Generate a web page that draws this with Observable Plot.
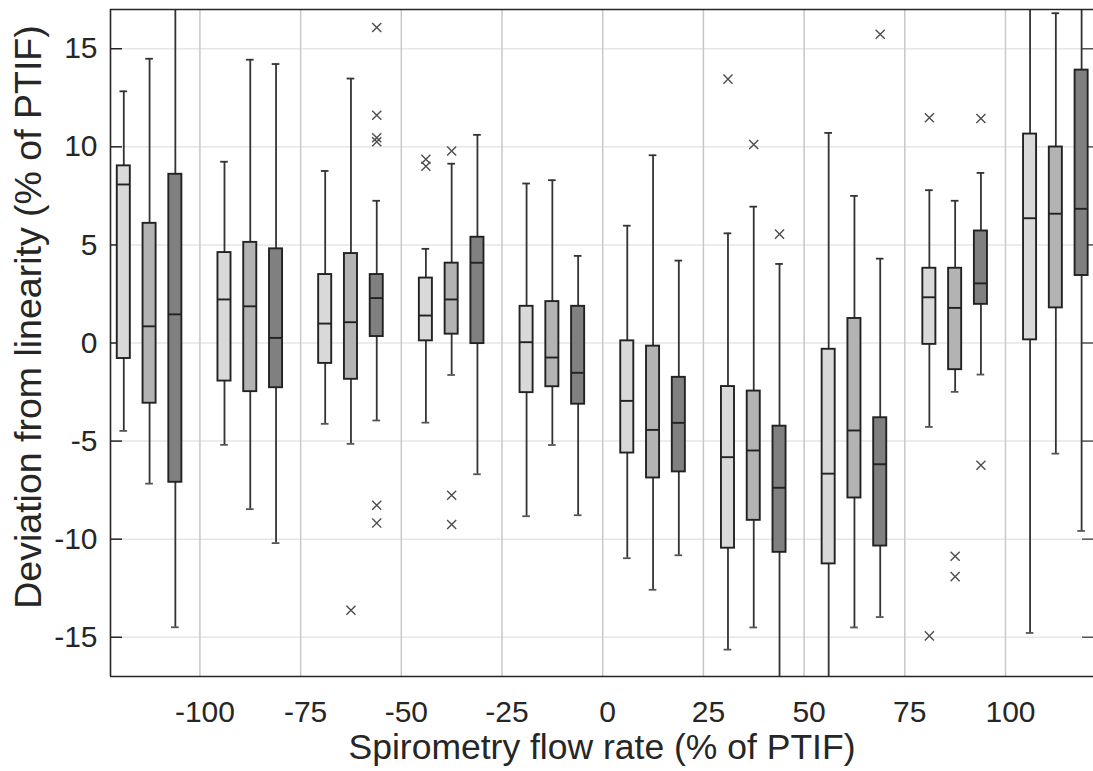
<!DOCTYPE html>
<html>
<head>
<meta charset="utf-8">
<script src="https://cdn.jsdelivr.net/npm/d3@7"></script>
<script src="https://cdn.jsdelivr.net/npm/@observablehq/plot@0.6"></script>
<style>
  html, body { margin: 0; padding: 0; background: #fff; }
  #chart { width: 1093px; height: 771px; }
</style>
</head>
<body>
<div id="chart"></div>
<script>
// Flow-rate bins (centre of each 25 %-wide bin, % of PTIF)
const binCenters = [-112.5, -87.5, -62.5, -37.5, -12.5, 12.5, 37.5, 62.5, 87.5, 112.5];
const seriesNames = ["Series 1", "Series 2", "Series 3"];

// Box statistics per bin: [series1, series2, series3]
const whiskerHigh = [
  [12.83, 14.49, 19.5], [9.24, 14.44, 14.22], [8.77, 13.48, 7.25], [4.80, 9.14, 10.61],
  [8.13, 8.30, 4.44], [5.98, 9.57, 4.20], [5.59, 6.95, 4.03], [10.71, 7.50, 4.30],
  [7.79, 7.25, 8.67], [19.0, 16.81, 19.0]
];
const upperQuartile = [
  [9.03, 6.10, 8.60], [4.61, 5.13, 4.80], [3.49, 4.56, 3.49], [3.31, 4.07, 5.39],
  [1.87, 2.11, 1.87], [0.11, -0.16, -1.75], [-2.22, -2.45, -4.24], [-0.32, 1.25, -3.81],
  [3.81, 3.81, 5.71], [10.65, 9.99, 13.91]
];
const medians = [
  [8.08, 0.85, 1.46], [2.22, 1.87, 0.26], [0.99, 1.06, 2.29], [1.40, 2.22, 4.09],
  [0.04, -0.74, -1.52], [-2.95, -4.43, -4.07], [-5.82, -5.48, -7.38], [-6.66, -4.46, -6.18],
  [2.33, 1.79, 3.04], [6.36, 6.59, 6.84]
];
const lowerQuartile = [
  [-0.79, -3.07, -7.10], [-1.94, -2.48, -2.28], [-1.04, -1.85, 0.33], [0.11, 0.45, -0.03],
  [-2.53, -2.23, -3.12], [-5.61, -6.88, -6.57], [-10.46, -9.04, -10.67], [-11.26, -7.90, -10.35],
  [-0.07, -1.36, 1.97], [0.16, 1.79, 3.44]
];
const whiskerLow = [
  [-4.48, -7.17, -14.49], [-5.19, -8.47, -10.20], [-4.12, -5.14, -3.95], [-4.06, -1.63, -6.69],
  [-8.83, -5.20, -8.78], [-10.97, -12.58, -10.82], [-15.63, -14.50, -18.0], [-19.0, -14.50, -13.97],
  [-4.28, -2.49, -1.61], [-14.78, -5.64, -9.58]
];
// Outliers: bin index, series index, value
const outlierBin    = [2, 2, 2, 2, 2, 2, 2, 3, 3, 3, 3, 3, 6, 6, 6, 7, 8, 8, 8, 8, 8, 8];
const outlierSeries = [2, 2, 2, 2, 2, 2, 1, 0, 0, 1, 1, 1, 0, 1, 2, 2, 0, 0, 1, 1, 2, 2];
const outlierValue  = [16.08, 11.61, 10.46, 10.26, -8.27, -9.18, -13.62, 9.37, 9.01, 9.79, -7.76, -9.25,
                       13.45, 10.12, 5.55, 15.74, 11.48, -14.93, -10.87, -11.91, 11.44, -6.23];

const xTicks = [-100, -75, -50, -25, 0, 25, 50, 75, 100];
const yTicks = [-15, -10, -5, 0, 5, 10, 15];
const fills = ["#d9d9d9", "#b3b3b3", "#808080"];

// ---- build tables ----
const xDomain = [-122.2, 121.85];
const yDomain = [-17, 17];
const seriesOffset = 6.4;   // spacing of the three boxes within a bin (x units)
const boxHalf = 1.62;       // half box width (x units)
const capHalf = 0.95;       // half whisker-cap width (x units)

const boxes = [];
binCenters.forEach((c, i) => {
  seriesNames.forEach((s, j) => {
    boxes.push({
      series: s, j, pos: c + (j - 1) * seriesOffset,
      lo: whiskerLow[i][j], q1: lowerQuartile[i][j], med: medians[i][j],
      q3: upperQuartile[i][j], hi: whiskerHigh[i][j]
    });
  });
});
const outliers = outlierValue.map((v, k) => ({
  pos: binCenters[outlierBin[k]] + (outlierSeries[k] - 1) * seriesOffset,
  value: v
}));

const chart = Plot.plot({
  width: 1093,
  height: 771,
  marginLeft: 110,
  marginRight: 0,
  marginTop: 9,
  marginBottom: 95,
  style: {fontFamily: "'Liberation Sans', Arial, sans-serif", fontSize: "30px", color: "#262626", background: "#fff"},
  x: {domain: xDomain, axis: null},
  y: {domain: yDomain, axis: null},
  marks: [
    // grid
    Plot.ruleY(yTicks, {stroke: "#e6e6e6", strokeWidth: 1.5}),
    Plot.ruleX(xTicks, {stroke: "#c8c8c8", strokeWidth: 1.5}),
    // axes: tick labels
    Plot.axisX({ticks: xTicks, tickSize: 0, tickPadding: 24, dx: 5, fontSize: 30, label: null, tickFormat: d => String(d)}),
    Plot.axisY({ticks: yTicks, anchor: "left", tickSize: 0, tickPadding: 13, fontSize: 30, label: null, tickFormat: d => String(d)}),
    // inward tick marks left and right
    Plot.axisY({ticks: yTicks, anchor: "left", tickSize: 12, dx: 12, text: null, label: null, stroke: "#262626", strokeWidth: 1.5}),
    Plot.axisY({ticks: yTicks, anchor: "right", tickSize: 12, dx: -12, text: null, label: null, stroke: "#555", strokeWidth: 1.5}),
    // whiskers
    Plot.ruleX(boxes, {x: "pos", y1: "lo", y2: "hi", stroke: "#333", strokeWidth: 1.8, clip: true}),
    Plot.ruleY(boxes, {y: "hi", x1: d => d.pos - capHalf, x2: d => d.pos + capHalf, stroke: "#333", strokeWidth: 1.8, clip: true}),
    Plot.ruleY(boxes, {y: "lo", x1: d => d.pos - capHalf, x2: d => d.pos + capHalf, stroke: "#555", strokeWidth: 1.8, clip: true}),
    // boxes
    Plot.rect(boxes, {x1: d => d.pos - boxHalf, x2: d => d.pos + boxHalf, y1: "q1", y2: "q3",
      fill: d => fills[d.j], stroke: "#222", strokeWidth: 1.9}),
    // medians
    Plot.ruleY(boxes, {y: "med", x1: d => d.pos - boxHalf, x2: d => d.pos + boxHalf, stroke: "#222", strokeWidth: 1.9}),
    // outliers
    Plot.dot(outliers, {x: "pos", y: "value", symbol: "times", r: 4.2, stroke: "#4d4d4d", strokeWidth: 1.4}),
    // frame (left, top, bottom)
    Plot.ruleX([xDomain[0]], {stroke: "#262626", strokeWidth: 1.6}),
    Plot.ruleY([yDomain[0], yDomain[1]], {stroke: "#262626", strokeWidth: 1.6}),
    // axis titles
    Plot.text(["Spirometry flow rate (% of PTIF)"], {frameAnchor: "bottom", dy: 71, lineAnchor: "middle",
      textAnchor: "middle", fontSize: 35.5, fill: "#262626"}),
    Plot.text(["Deviation from linearity (% of PTIF)"], {frameAnchor: "left", rotate: -90, dx: -82, dy: -26,
      lineAnchor: "middle", textAnchor: "middle", fontSize: 37.5, fill: "#262626"})
  ]
});
document.getElementById("chart").appendChild(chart);
</script>
</body>
</html>
